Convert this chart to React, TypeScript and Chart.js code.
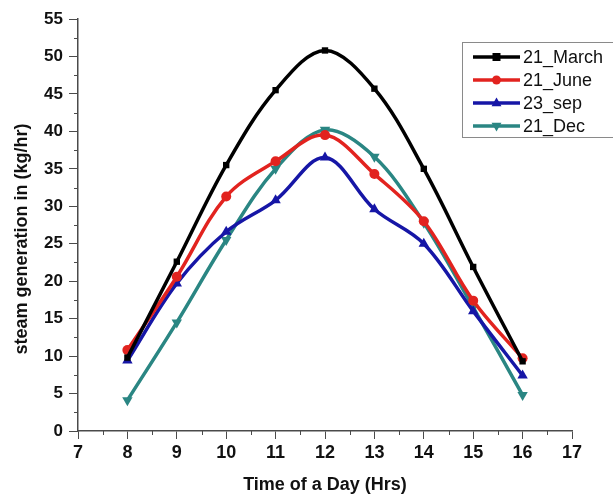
import React, { useEffect, useRef } from "react";
import { Chart, registerables } from "chart.js";

Chart.register(...registerables);

const HOURS = [8, 9, 10, 11, 12, 13, 14, 15, 16];
const MARCH = [9.8, 22.6, 35.5, 45.5, 50.8, 45.7, 35.0, 21.9, 9.3];
const JUNE = [10.8, 20.6, 31.3, 36.0, 39.5, 34.3, 28.0, 17.4, 9.7];
const SEP = [9.4, 19.7, 26.6, 30.8, 36.5, 29.6, 25.0, 16.0, 7.4];
const DEC = [4.1, 14.5, 25.5, 35.0, 40.2, 36.6, 27.8, 16.5, 4.8];
const SERIES_NAMES = ["21_March", "21_June", "23_sep", "21_Dec"];
const X_MINOR = [7.5, 8.5, 9.5, 10.5, 11.5, 12.5, 13.5, 14.5, 15.5, 16.5];
const Y_MINOR = [2.5, 7.5, 12.5, 17.5, 22.5, 27.5, 32.5, 37.5, 42.5, 47.5, 52.5];
const Y_TITLE = "steam generation in (kg/hr)";
const X_TITLE = "Time of a Day (Hrs)";

const COLORS = ["#000000", "#e2231f", "#1616a6", "#2a8683"];
const STYLES = ["rect", "circle", "triangle", "triangle"];
const ROTATIONS = [0, 0, 0, 180];
const RADII = [4.5, 5, 6, 6];
const AXIS_COLOR = "#4a4a4a";
const FONT = "'Liberation Sans', Arial, sans-serif";

function drawMarker(ctx: CanvasRenderingContext2D, style: string, rot: number, x: number, y: number, r: number) {
  ctx.beginPath();
  if (style === "rect") {
    ctx.rect(x - r, y - r, 2 * r, 2 * r);
  } else if (style === "circle") {
    ctx.arc(x, y, r, 0, Math.PI * 2);
  } else {
    const s = rot === 180 ? -1 : 1;
    ctx.moveTo(x, y - s * r);
    ctx.lineTo(x + r * 0.9, y + s * r * 0.6);
    ctx.lineTo(x - r * 0.9, y + s * r * 0.6);
    ctx.closePath();
  }
  ctx.fill();
}

const decor = {
  id: "decor",
  afterDraw(chart: any) {
    const ctx = chart.ctx as CanvasRenderingContext2D;
    const xs = chart.scales.x;
    const ys = chart.scales.y;
    ctx.save();
    ctx.strokeStyle = AXIS_COLOR;
    ctx.lineWidth = 1;
    ctx.beginPath();
    for (const v of X_MINOR) {
      const px = Math.round(xs.getPixelForValue(v)) + 0.5;
      ctx.moveTo(px, ys.bottom);
      ctx.lineTo(px, ys.bottom + 4);
    }
    for (const v of Y_MINOR) {
      const py = Math.round(ys.getPixelForValue(v)) + 0.5;
      ctx.moveTo(xs.left, py);
      ctx.lineTo(xs.left - 4, py);
    }
    ctx.stroke();

    // y axis title
    ctx.save();
    ctx.translate(22, 239);
    ctx.rotate(-Math.PI / 2);
    ctx.font = `bold 18px ${FONT}`;
    ctx.fillStyle = "#111111";
    ctx.textAlign = "center";
    ctx.textBaseline = "middle";
    ctx.fillText(Y_TITLE, 0, 0);
    ctx.restore();

    // legend
    const bx = 462.5, by = 42.5, bw = 170, bh = 95;
    ctx.strokeStyle = "#8a8a8a";
    ctx.lineWidth = 1;
    ctx.fillStyle = "#ffffff";
    ctx.fillRect(bx, by, bw, bh);
    ctx.strokeRect(bx, by, bw, bh);
    const rows = [57, 80, 103, 126];
    ctx.font = `18px ${FONT}`;
    ctx.textBaseline = "middle";
    ctx.textAlign = "left";
    SERIES_NAMES.forEach((name, i) => {
      const yy = rows[i];
      ctx.strokeStyle = COLORS[i];
      ctx.lineWidth = 3.5;
      ctx.beginPath();
      ctx.moveTo(473, yy);
      ctx.lineTo(520, yy);
      ctx.stroke();
      ctx.fillStyle = COLORS[i];
      drawMarker(ctx, STYLES[i], ROTATIONS[i], 496.5, yy, RADII[i] - 0.5);
      ctx.fillStyle = "#111111";
      ctx.fillText(name, 523, yy + 1);
    });
    ctx.restore();
  },
};

export default function App() {
  const ref = useRef<HTMLCanvasElement | null>(null);
  useEffect(() => {
    if (!ref.current) return;
    const all = [MARCH, JUNE, SEP, DEC];
    const chart = new Chart(ref.current, {
      type: "line",
      data: {
        datasets: all.map((vals, i) => ({
          label: SERIES_NAMES[i],
          data: HOURS.map((h, j) => ({ x: h, y: vals[j] })),
          borderColor: COLORS[i],
          backgroundColor: COLORS[i],
          borderWidth: 3.5,
          pointStyle: STYLES[i] as any,
          rotation: ROTATIONS[i],
          pointRadius: RADII[i],
          pointBorderWidth: 0,
          tension: 0.35,
          fill: false,
        })),
      },
      options: {
        responsive: false,
        animation: false,
        layout: { padding: { top: 19, right: 41, left: 0, bottom: 0 } },
        plugins: { legend: { display: false }, tooltip: { enabled: false } },
        scales: {
          x: {
            type: "linear",
            min: 7,
            max: 17,
            afterFit: (s: any) => { s.height = 63; },
            ticks: { stepSize: 1, color: "#111", font: { family: FONT, size: 18, weight: "bold" }, padding: 3, maxRotation: 0 },
            grid: { drawOnChartArea: false, drawTicks: true, tickLength: 8, color: AXIS_COLOR, lineWidth: 1 },
            border: { display: true, color: AXIS_COLOR, width: 1.5 },
            title: { display: true, text: X_TITLE, color: "#111", font: { family: FONT, size: 18, weight: "bold" }, padding: { top: 0, bottom: -2 } },
          },
          y: {
            type: "linear",
            min: 0,
            max: 55,
            afterFit: (s: any) => { s.width = 78; },
            ticks: { stepSize: 5, color: "#111", font: { family: FONT, size: 17, weight: "bold" }, padding: 6 },
            grid: { drawOnChartArea: false, drawTicks: true, tickLength: 9, color: AXIS_COLOR, lineWidth: 1 },
            border: { display: true, color: AXIS_COLOR, width: 1.5 },
            title: { display: false },
          },
        },
      },
      plugins: [decor],
    });
    return () => chart.destroy();
  }, []);
  return (
    <div style={{ position: "fixed", left: 0, top: 0, width: 613, height: 494, background: "#fff" }}>
      <canvas ref={ref} width={613} height={494} />
    </div>
  );
}
